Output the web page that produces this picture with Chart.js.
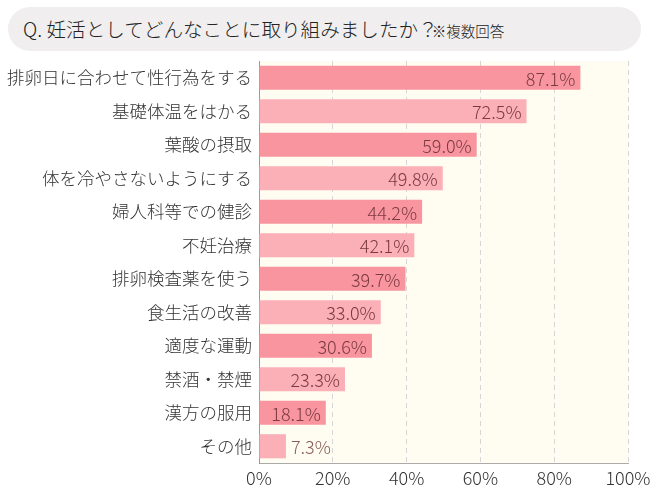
<!DOCTYPE html>
<html><head><meta charset="utf-8">
<script src="https://cdn.jsdelivr.net/npm/chart.js@4"></script>
<style>
html,body{margin:0;padding:0;background:#fff;}
#wrap{position:relative;width:650px;height:494px;}
#title{position:absolute;left:8px;top:7px;width:633px;height:44px;border-radius:22px;background:#f0eeee;
 font-family:"Noto Sans CJK JP","Noto Sans",sans-serif;font-weight:300;color:#222;line-height:44px;box-sizing:border-box;padding-left:15px;white-space:nowrap;}
#title .q{font-size:19.6px;}
#title .n{font-size:14.5px;margin-left:-6px;}
canvas{position:absolute;left:0;top:0;}
</style></head>
<body><div id="wrap">
<canvas id="c" width="650" height="494"></canvas>
<div id="title"><span class="q">Q. 妊活としてどんなことに取り組みましたか？</span><span class="n">※複数回答</span></div>
</div>
<script>
const categories = ["排卵日に合わせて性行為をする","基礎体温をはかる","葉酸の摂取","体を冷やさないようにする","婦人科等での健診","不妊治療","排卵検査薬を使う","食生活の改善","適度な運動","禁酒・禁煙","漢方の服用","その他"];
const values = [87.1,72.5,59.0,49.8,44.2,42.1,39.7,33.0,30.6,23.3,18.1,7.3];
const tickValues = [0,20,40,60,80,100];
const barColors = values.map((v,i)=> i%2===0 ? "#f8959f" : "#fbafb7");
const FONT = '"Noto Sans CJK JP","Noto Sans",sans-serif';

const bgPlugin = {
  id:'bg',
  beforeDraw(chart){
    const {ctx, chartArea:a} = chart;
    ctx.save(); ctx.fillStyle = "#fffdf1";
    ctx.fillRect(a.left, a.top, a.right-a.left, a.bottom-a.top);
    ctx.restore();
  }
};
const labelPlugin = {
  id:'vlabels',
  afterDatasetsDraw(chart){
    const {ctx} = chart;
    const meta = chart.getDatasetMeta(0);
    const xs = chart.scales.x;
    ctx.save();
    ctx.font = '300 18px ' + FONT;
    ctx.textBaseline = 'middle';
    meta.data.forEach((bar,i)=>{
      const v = values[i];
      const txt = v.toFixed(1)+'%';
      const end = xs.getPixelForValue(v);
      const w = ctx.measureText(txt).width;
      if (end - xs.left > w + 10) {
        ctx.fillStyle = '#7a3a40'; ctx.textAlign = 'right';
        ctx.fillText(txt, end-5, bar.y+1);
      } else {
        ctx.fillStyle = '#8a5a5a'; ctx.textAlign = 'left';
        ctx.fillText(txt, end+5, bar.y+1);
      }
    });
    ctx.restore();
  }
};

new Chart(document.getElementById('c'), {
  type:'bar',
  data:{labels:categories, datasets:[{data:values, backgroundColor:barColors, borderWidth:0, barPercentage:0.72, categoryPercentage:1.0}]},
  options:{
    indexAxis:'y', responsive:false, animation:false,
    layout:{padding:{top:61,right:22,bottom:0,left:0}},
    plugins:{legend:{display:false}, tooltip:{enabled:false}},
    scales:{
      x:{min:0,max:100,
        afterBuildTicks(s){ s.ticks = tickValues.map(v=>({value:v})); },
        afterFit(s){ s.height = 31; s.paddingRight = 0; s.paddingLeft = 0; },
        ticks:{padding:4, color:'#333', font:{size:18, weight:300, family:FONT}, callback:v=>v+'%', maxRotation:0},
        grid:{color:(c)=> c.tick && c.tick.value===0 ? 'rgba(0,0,0,0)' : '#d6d6d6', drawTicks:false},
        border:{display:true, color:'#aaaaaa', width:1, dash:[5,4]}
      },
      y:{
        afterFit(s){ s.width = 259; },
        ticks:{padding:7, color:'#333', font:{size:17.5, weight:300, family:FONT}},
        grid:{display:false, drawTicks:false},
        border:{display:true, color:'#999', width:1}
      }
    }
  },
  plugins:[bgPlugin, labelPlugin]
});
</script>
</body></html>
